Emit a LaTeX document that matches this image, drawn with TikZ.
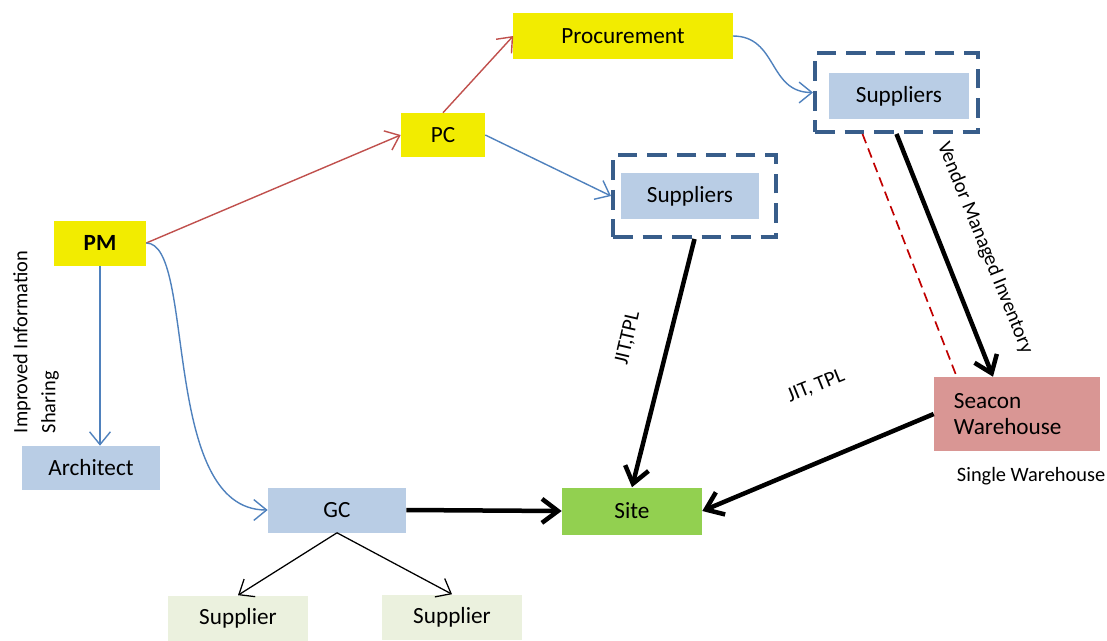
\documentclass[tikz,border=0pt]{standalone}
\usepackage{fontspec}
\setmainfont{Carlito}
\usepackage{xcolor}
\usepackage{tikz}
\usetikzlibrary{arrows,arrows.meta,positioning,shapes,calc}
\definecolor{pmyellow}{RGB}{242,236,0}
\definecolor{boxblue}{RGB}{185,205,229}
\definecolor{sitegreen}{RGB}{146,208,80}
\definecolor{whpink}{RGB}{217,150,148}
\definecolor{suppale}{RGB}{235,241,222}
\definecolor{frameblue}{RGB}{56,93,138}
\definecolor{linkred}{RGB}{192,80,77}
\definecolor{linkblue}{RGB}{79,129,189}
\definecolor{vmired}{RGB}{192,0,0}
\tikzset{
  box/.style={minimum width=3.45cm,minimum height=1.125cm,inner sep=0pt},
  framebox/.style={draw=frameblue,line width=2.8pt,dash pattern=on 14pt off 7pt,minimum width=4.075cm,inner sep=0pt},
  tip/.style={-{Straight Barb[length=3.2mm,width=5.2mm]}},
  redline/.style={draw=linkred,line width=1pt,tip},
  blueline/.style={draw=linkblue,line width=1pt,tip},
  flow/.style={line width=3.2pt,-{Straight Barb[length=4mm,width=6mm]}},
  thinflow/.style={line width=0.9pt,tip},
  lbl/.style={font=\fontsize{14.5}{20}\selectfont},
}

\begin{document}
\begin{tikzpicture}[x=0.025cm,y=-0.025cm,font=\fontsize{16.5}{19}\selectfont]
        \useasboundingbox (0,0) rectangle (1107,640);
        % boxes
        \node[box,fill=pmyellow,minimum width=5.475cm] (proc) at (623,36) {Procurement};
        \node[box,fill=pmyellow,minimum width=2.1cm,minimum height=1.1cm] (PC) at (443,135) {PC};
        \node[box,fill=pmyellow,minimum width=2.3cm,font=\fontsize{16.5}{19}\selectfont\bfseries] (PM) at (100,243) {PM};
        \node[box,fill=boxblue,minimum width=3.475cm] (sup1) at (899,96) {Suppliers};
        \node[framebox,minimum height=1.975cm] (frame1) at (896.5,92.5) {};
        \node[box,fill=boxblue] (sup2) at (690,196) {Suppliers};
        \node[framebox,minimum height=2.05cm] (frame2) at (694.5,196) {};
        \node[box,fill=boxblue,minimum height=1.1cm] (arch) at (91,468) {Architect};
        \node[box,fill=boxblue] (GC) at (337,510) {GC};
        \node[box,fill=sitegreen,minimum width=3.5cm,minimum height=1.175cm] (site) at (632,511) {Site};
        \node[box,fill=whpink,minimum width=4.15cm,minimum height=1.85cm,inner xsep=0.5cm,text width=3.15cm,align=left] (seacon) at (1017,414) {Seacon\\Warehouse};
        \node[box,fill=suppale,minimum width=3.475cm] (supl) at (238,618) {Supplier};
        \node[box,fill=suppale,minimum width=3.475cm] (supr) at (452,617) {Supplier};
        % labels
        \node[lbl,anchor=west] (single) at (952,476) {Single Warehouse};
        \node[lbl,rotate=90,align=left] (info) at (36,342) {Improved Information\\Sharing};
        \node[lbl,font=\fontsize{15}{17}\selectfont,rotate=77] (jit1) at (628,338) {JIT,TPL};
        \node[lbl,font=\fontsize{15}{17}\selectfont,rotate=22] (jit2) at (816,386) {JIT, TPL};
        \node[lbl,rotate=-68] (vmi) at (985,248) {Vendor Managed Inventory};
        % links
        \draw[redline] (PM.east) -- (PC.west);
        \draw[redline] (PC.north) -- (proc.west);
        \draw[blueline] (proc.east) .. controls +(45,0) and +(-45,0) .. (frame1.west);
        \draw[blueline] (PC.east) -- (frame2.west);
        \draw[blueline] (PM.south) -- (PM.south |- arch.north);
        \draw[blueline] (PM.east) .. controls +(50,0) and +(-108,0) .. (GC.west);
        \draw[flow] (frame2.south) -- (site.north);
        \draw[flow] (frame1.south) -- ([xshift=-0.6cm]seacon.north);
        \draw[vmired,line width=1.2pt,dash pattern=on 7pt off 4pt] ([xshift=-0.85cm]frame1.south) -- ([xshift=0.575cm]seacon.north west);
        \draw[flow] (seacon.west) -- (site.east);
        \draw[flow] (GC.east) -- (site.west);
        \draw[thinflow] (GC.south) -- (supl.north);
        \draw[thinflow] (GC.south) -- (supr.north);
      \end{tikzpicture}
\end{document}
